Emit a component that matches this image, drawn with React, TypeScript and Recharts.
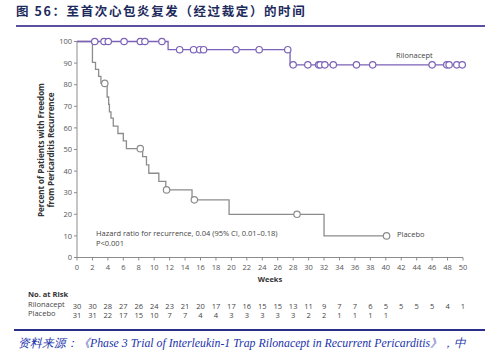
import { ComposedChart, Line, XAxis, YAxis } from 'recharts'

// Kaplan-Meier steps: [week, percent after the drop]
const rilonaceptSteps = [[0, 100], [11.8, 96.2], [27.6, 89.2]]
const rilonaceptCensored = [2.3, 3.5, 4.05, 6.1, 8.2, 8.8, 11.0, 13.3, 15.1, 15.9, 16.4, 20.6, 23.6, 27.3,
  28.0, 29.9, 31.3, 31.5, 32.1, 33.2, 36.2, 38.3, 46.0, 47.9, 48.2, 49.2, 49.9]

const placeboSteps = [[0, 100], [2.0, 90.3], [2.4, 87.1], [2.8, 83.9], [3.1, 80.6], [3.9, 74.3], [4.1, 70.9],
  [4.2, 67.4], [4.4, 64.5], [4.7, 60.8], [5.3, 57.4], [6.0, 54.0], [6.4, 50.4], [8.5, 46.7], [9.0, 42.9],
  [9.3, 39.0], [10.6, 35.2], [11.5, 31.3], [14.9, 26.7], [19.7, 20.0], [32.0, 10.0]]
const placeboCensored = [3.6, 8.2, 11.6, 15.2, 28.5, 40.1]

const weekTicks = [0, 2, 4, 6, 8, 10, 12, 14, 16, 18, 20, 22, 24, 26, 28, 30, 32, 34, 36, 38, 40, 42, 44, 46, 48, 50]
const pctTicks = [0, 10, 20, 30, 40, 50, 60, 70, 80, 90, 100]

const rilonaceptAtRisk = [30, 30, 28, 27, 26, 24, 23, 21, 20, 17, 17, 16, 15, 15, 13, 11, 9, 7, 7, 6, 5, 5, 5, 5, 4, 1]
const placeboAtRisk = [31, 31, 22, 17, 15, 10, 7, 7, 4, 4, 3, 3, 3, 3, 3, 2, 2, 1, 1, 1, 1]

const PURPLE = '#7b62b8'
const GREY = '#8c8c8c'
const FONT = '"Open Sans", sans-serif'

// merge step points and censor marks into one series for a stepAfter line
function buildCurve(steps: number[][], censored: number[]) {
  const level = (w: number) => {
    let v = steps[0][1]
    for (const [sw, sv] of steps) if (sw <= w) v = sv
    return v
  }
  const pts = [
    ...steps.map(([w, v]) => ({ w, v, c: false })),
    ...censored.map((w) => ({ w, v: level(w), c: true })),
  ]
  return pts.sort((a, b) => a.w - b.w)
}

const rilonacept = buildCurve(rilonaceptSteps, rilonaceptCensored)
const placebo = buildCurve(placeboSteps, placeboCensored)

function CensorDot(color: string) {
  return (props: any) => {
    const { cx, cy, payload, index } = props
    if (!payload?.c) return <g key={index} />
    return <circle key={index} cx={cx} cy={cy} r={3.2} fill="#fff" stroke={color} strokeWidth={1.2} />
  }
}

// week tick plus the two at-risk rows underneath
function WeekTick({ x, y, payload }: any) {
  const i = weekTicks.indexOf(payload.value)
  const r = rilonaceptAtRisk[i]
  const p = placeboAtRisk[i]
  const t = { textAnchor: 'middle' as const, fontSize: 7.5, fontFamily: FONT }
  return (
    <g>
      <text x={x} y={y + 7} {...t} fill="#555">{payload.value}</text>
      {r !== undefined && <text x={x} y={y + 46} {...t} fill="#444">{r}</text>}
      {p !== undefined && <text x={x} y={y + 55} {...t} fill="#444">{p}</text>}
    </g>
  )
}

const abs = (x: number, y: number, extra: any = {}) => ({
  position: 'absolute' as const, left: x, top: y, whiteSpace: 'nowrap' as const, lineHeight: 1, ...extra,
})

export default function App() {
  return (
    <div style={{ position: 'absolute', left: 0, top: 0, width: 488, height: 355, background: '#fff', overflow: 'hidden' }}>
      <div style={abs(16, 5, { fontFamily: '"Noto Sans CJK SC", sans-serif', fontWeight: 700, fontSize: 12.5, letterSpacing: 1.6, color: '#1c2a5c' })}>
        图 56：至首次心包炎复发（经过裁定）的时间
      </div>
      <div style={abs(16, 25, { width: 469, height: 2, background: '#5a50a0' })} />

      <ComposedChart width={488} height={355} margin={{ top: 41.5, right: 25, bottom: 67.5, left: 47 }}
        style={{ position: 'absolute', left: 0, top: 0 }}>
        <XAxis dataKey="w" type="number" domain={[0, 50]} ticks={weekTicks} interval={0}
          height={30} stroke={GREY} tickSize={3} tick={<WeekTick />}
          label={{ value: 'Weeks', position: 'insideBottom', offset: 6, fontSize: 7.5, fontWeight: 700, fill: '#333', fontFamily: FONT }} />
        <YAxis type="number" domain={[0, 100]} ticks={pctTicks} width={30} stroke={GREY} tickSize={3}
          tick={{ fontSize: 7.5, fill: '#555', fontFamily: FONT }} />
        <Line data={placebo} dataKey="v" type="stepAfter" stroke={GREY} strokeWidth={1.3}
          dot={CensorDot(GREY)} activeDot={false} isAnimationActive={false} />
        <Line data={rilonacept} dataKey="v" type="stepAfter" stroke={PURPLE} strokeWidth={1.3}
          dot={CensorDot(PURPLE)} activeDot={false} isAnimationActive={false} />
      </ComposedChart>

      <div style={abs(46, 150, { transform: 'translate(-50%, -50%) rotate(-90deg)', fontFamily: FONT, fontWeight: 700, fontSize: 8, color: '#333', textAlign: 'center', lineHeight: 1.2 })}>
        Percent of Patients with Freedom<br />from Pericarditis Recurrence
      </div>
      <div style={abs(396, 52, { fontFamily: FONT, fontSize: 7.5, color: '#444' })}>Rilonacept</div>
      <div style={abs(397, 231, { fontFamily: FONT, fontSize: 7.5, color: '#444' })}>Placebo</div>
      <div style={abs(96, 228, { fontFamily: FONT, fontSize: 7.5, color: '#444', lineHeight: 1.35 })}>
        Hazard ratio for recurrence, 0.04 (95% CI, 0.01–0.18)<br />P&lt;0.001
      </div>

      <div style={abs(28, 291, { fontFamily: FONT, fontSize: 7.5, fontWeight: 700, color: '#333' })}>No. at Risk</div>
      <div style={abs(28, 301, { fontFamily: FONT, fontSize: 7.5, color: '#444' })}>Rilonacept</div>
      <div style={abs(28, 310, { fontFamily: FONT, fontSize: 7.5, color: '#444' })}>Placebo</div>

      <div style={abs(14, 329, { width: 471, height: 1.5, background: '#2b2f8a' })} />
      <div style={abs(18, 338, { fontFamily: '"Liberation Serif", serif', fontStyle: 'italic', fontSize: 11.8, color: '#2233aa' })}>
        资料来源：《Phase 3 Trial of Interleukin-1 Trap Rilonacept in Recurrent Pericarditis》，中
      </div>
    </div>
  )
}
